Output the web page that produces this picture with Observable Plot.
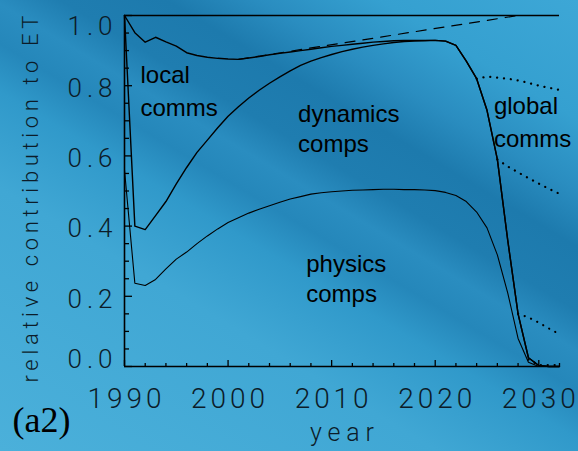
<!DOCTYPE html>
<html><head><meta charset="utf-8">
<script src="https://cdn.jsdelivr.net/npm/d3@7"></script>
<script src="https://cdn.jsdelivr.net/npm/@observablehq/plot@0.6"></script>
<style>
html,body{margin:0;padding:0;width:578px;height:451px;overflow:hidden;background:#2a8cbf;}
#chart svg{display:block;}
</style></head>
<body><div id="chart"></div>
<script>
const years = [1990,1991,1992,1993,1994,1995,1996,1997,1998,1999,2000,2001,2002,2003,2004,2005,2006,2007,2008,2009,2010,2011,2012,2013,2014,2015,2016,2017,2018,2019,2020,2021,2022,2023,2024,2025,2026,2027,2028,2029,2030,2031,2032];
const physicsLine = [0.56,0.237,0.231,0.248,0.278,0.306,0.326,0.35,0.372,0.392,0.41,0.424,0.437,0.448,0.458,0.468,0.477,0.484,0.491,0.495,0.498,0.5,0.502,0.503,0.504,0.505,0.505,0.504,0.504,0.503,0.501,0.496,0.487,0.47,0.44,0.395,0.318,0.21,0.08,0.012,0.0,0.0,0.0];
const dynamicsLine = [1.0,0.40,0.39,0.43,0.47,0.52,0.567,0.61,0.645,0.68,0.713,0.74,0.765,0.787,0.807,0.825,0.842,0.858,0.87,0.88,0.889,0.897,0.904,0.91,0.915,0.919,0.923,0.926,0.927,0.928,0.929,0.927,0.915,0.87,0.82,0.73,0.59,0.36,0.15,0.025,0.003,0.0,0.0];
const localLine = [1.0,0.951,0.924,0.938,0.925,0.913,0.894,0.886,0.881,0.878,0.876,0.875,0.879,0.883,0.888,0.892,0.896,0.90,0.904,0.908,0.912,0.915,0.918,0.921,0.924,0.926,0.928,0.929,0.929,0.929,0.929,0.927,0.915,0.87,0.82,0.73,0.59,0.36,0.15,0.025,0.003,0.0,0.0];
const totalValue = 1.0;
const dashYears = [2001, 2028];
const dashValues = [0.875, 1.0];
const dotAYears = [2024,2025,2026,2027,2028,2029,2030,2031,2032];
const dotAValues = [0.82,0.826,0.823,0.82,0.815,0.808,0.80,0.794,0.788];
const dotBYears = [2026,2027,2028,2029,2030,2031,2032];
const dotBValues = [0.59,0.57,0.553,0.537,0.521,0.506,0.492];
const dotCYears = [2028,2029,2030,2031,2032];
const dotCValues = [0.15,0.14,0.125,0.108,0.092];
const dotDYears = [2029,2030,2031,2032];
const dotDValues = [0.02,0.004,0.004,0.004];
const xMajorTicks = [1990,2000,2010,2020,2030];
const xMinorTicks = [1992,1994,1996,1998,2002,2004,2006,2008,2012,2014,2016,2018,2022,2024,2026,2028,2032];
const yMidTicks = [0.2,0.4,0.6,0.8];
const yMajorTicks = [0,0.2,0.4,0.6,0.8,1.0];
const yMinorTicks = [0.05,0.1,0.15,0.25,0.3,0.35,0.45,0.5,0.55,0.65,0.7,0.75,0.85,0.9,0.95];
const labelTexts = ["local","comms","dynamics","comps","global","comms","physics","comps"];
const labelYears = [1991.54,1991.54,2006.76,2006.76,2025.67,2025.67,2007.55,2007.55];
const labelValues = [0.808,0.713,0.696,0.610,0.720,0.625,0.269,0.183];
const yTitle = "relative contribution to ET";
const xTitle = "year";
const panelTag = "(a2)";

const series = (xs, vs) => xs.map((year, i) => ({year, value: vs[i]}));
const physics = series(years, physicsLine);
const dynamics = series(years, dynamicsLine);
const local = series(years, localLine);
const dashed = series(dashYears, dashValues);
const dots = [series(dotAYears, dotAValues), series(dotBYears, dotBValues), series(dotCYears, dotCValues), series(dotDYears, dotDValues)];
const labels = labelTexts.map((text, i) => ({text, year: labelYears[i], value: labelValues[i]}));

const tickFont = "Roboto, 'DejaVu Sans', sans-serif";
const ink = "#0c1c29";
const bg = "linear-gradient(31deg, #4bb0da 0%, #40a7d4 33%, #3099ca 45%, #2587ba 51%, #2a8dc0 56%, #1f7db0 61%, #1d7aad 69%, #2a8dc0 76%, #35a0d0 85%, #3da7d6 100%)";

const marks = [
  Plot.ruleY([totalValue], {stroke: "black", strokeWidth: 1.4}),
  Plot.ruleX([1990], {stroke: "black", strokeWidth: 1.6}),
  Plot.ruleY([0], {stroke: "black", strokeWidth: 1.6}),
  Plot.line(physics, {x: "year", y: "value", stroke: "black", strokeWidth: 1.1}),
  Plot.line(dynamics, {x: "year", y: "value", stroke: "black", strokeWidth: 1.4}),
  Plot.line(local, {x: "year", y: "value", stroke: "black", strokeWidth: 1.4}),
  Plot.line(dashed, {x: "year", y: "value", stroke: "black", strokeWidth: 1.2, strokeDasharray: "10,8"}),
  ...dots.map(d => Plot.line(d, {x: "year", y: "value", stroke: "black", strokeWidth: 2.2, strokeDasharray: "0.1,6.8", strokeLinecap: "round"})),
  // tick marks (inside)
  Plot.axisY({ticks: yMajorTicks, tickSize: 8, dx: 8, fill: "none", label: null, stroke: "black", strokeWidth: 1.3}),
  Plot.axisY({ticks: yMinorTicks, tickSize: 5, dx: 5, fill: "none", label: null, stroke: "black", strokeWidth: 1.3}),
  Plot.axisX({ticks: xMajorTicks, tickSize: 6, dy: -6, fill: "none", label: null, stroke: "black", strokeWidth: 1.3}),
  Plot.axisX({ticks: xMinorTicks, tickSize: 3, dy: -3, fill: "none", label: null, stroke: "black", strokeWidth: 1.3}),
  // tick labels
  Plot.axisY({ticks: yMidTicks, tickSize: 0, tickPadding: 12, dy: 3, tickFormat: d3.format(".1f"), label: null, fill: ink, fontSize: 26, fontFamily: tickFont, fontWeight: 300}),
  Plot.axisY({ticks: [1.0], tickSize: 0, tickPadding: 12, dy: 11, tickFormat: d3.format(".1f"), label: null, fill: ink, fontSize: 26, fontFamily: tickFont, fontWeight: 300}),
  Plot.axisY({ticks: [0.0], tickSize: 0, tickPadding: 12, dy: -7, tickFormat: d3.format(".1f"), label: null, fill: ink, fontSize: 26, fontFamily: tickFont, fontWeight: 300}),
  Plot.axisX({ticks: xMajorTicks, tickSize: 0, tickPadding: 22, tickFormat: d => String(d), label: null, fill: ink, fontSize: 28, fontFamily: tickFont, fontWeight: 300}),
  // titles
  Plot.text([yTitle], {text: d => d, frameAnchor: "left", textAnchor: "middle", rotate: -90, dx: -94, dy: 8, fontSize: 22, fontFamily: tickFont, fontWeight: 300, fill: ink}),
  Plot.text([xTitle], {text: d => d, frameAnchor: "bottom", textAnchor: "middle", lineAnchor: "bottom", dy: 74, fontSize: 25, fontFamily: tickFont, fontWeight: 300, fill: ink}),
  Plot.text([panelTag], {text: d => d, frameAnchor: "bottom-left", textAnchor: "start", lineAnchor: "bottom", dx: -112, dy: 65, fontSize: 36, fontFamily: "'Liberation Serif', 'Times New Roman', serif", fill: "black"}),
  // region labels
  Plot.text(labels, {x: "year", y: "value", text: "text", textAnchor: "start", lineAnchor: "bottom", fontSize: 24, fontFamily: "'Liberation Sans', Arial, sans-serif", fill: "black"})
];

const chart = Plot.plot({
  width: 578,
  height: 451,
  marginLeft: 124,
  marginRight: 19,
  marginTop: 15,
  marginBottom: 85,
  x: {domain: [1990, 2032]},
  y: {domain: [0, 1]},
  style: {background: bg, overflow: "visible"},
  marks
});

const svg = d3.select(chart);
svg.selectAll('g[aria-label="x-axis tick label"] text').attr("textLength", 74).attr("lengthAdjust", "spacing");
svg.selectAll('g[aria-label="y-axis tick label"] text').attr("textLength", 45).attr("lengthAdjust", "spacing");
svg.selectAll("text").filter(function () { return this.textContent === yTitle; })
  .attr("textLength", 367).attr("lengthAdjust", "spacing");
svg.selectAll("text").filter(function () { return this.textContent === xTitle; })
  .attr("textLength", 64).attr("lengthAdjust", "spacing");
document.getElementById("chart").appendChild(chart);
</script>
</body></html>
